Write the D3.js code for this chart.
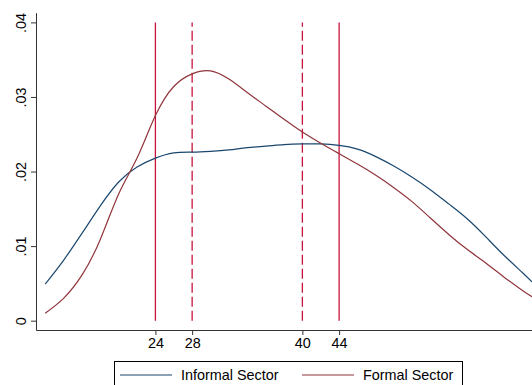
<!doctype html>
<html>
<head>
  <meta charset="utf-8">
  <script src="https://d3js.org/d3.v7.min.js"></script>
  <style>
    body { margin: 0; background: #fff; }
    svg { display: block; }
    text { font-family: Arial, "Liberation Sans", sans-serif; font-size: 14.4px; fill: #000; }
    .axis path, .axis line { stroke: #333; }
  </style>
</head>
<body>
<script>
  // age grid and kernel density estimates
  var ages = [12, 14, 16, 18, 20, 22, 24, 26, 28, 30, 32, 34, 36, 38, 40,
              42, 44, 46, 48, 50, 52, 54, 56, 58, 60, 62, 64, 65];
  var informal = [0.0049, 0.0081, 0.0117, 0.0154, 0.0186, 0.0206, 0.0218, 0.0225, 0.0226, 0.0227,
                  0.0229, 0.0232, 0.0234, 0.0236, 0.0237, 0.0237, 0.0235, 0.0230, 0.0220, 0.0207,
                  0.0192, 0.0175, 0.0156, 0.0136, 0.0112, 0.0087, 0.0064, 0.0052];
  var formal = [0.0010, 0.0030, 0.0061, 0.0109, 0.0170, 0.0218, 0.0275, 0.0314, 0.0331, 0.0335,
                0.0324, 0.0306, 0.0288, 0.0270, 0.0253, 0.0238, 0.0224, 0.0210, 0.0195, 0.0178,
                0.0159, 0.0137, 0.0115, 0.0095, 0.0077, 0.0058, 0.0040, 0.0032];
  var series = [
    { name: "Informal Sector", values: informal, color: "#1a476f" },
    { name: "Formal Sector", values: formal, color: "#90353b" }
  ];
  var xTicks = [24, 28, 40, 44];
  var yTicks = [0, 0.01, 0.02, 0.03, 0.04];
  var refLines = [
    { age: 24, dashed: false },
    { age: 28, dashed: true },
    { age: 40, dashed: true },
    { age: 44, dashed: false }
  ];

  var width = 532, height = 385;

  var svg = d3.select("body").append("svg")
    .attr("width", width)
    .attr("height", height);

  var x = d3.scaleLinear().domain([11, 65]).range([36, 532]);
  var y = d3.scaleLinear().domain([-0.00125, 0.0413]).range([330, 12.7]);

  // reference lines
  svg.selectAll(".ref")
    .data(refLines)
    .enter().append("line")
    .attr("class", "ref")
    .attr("x1", function (d) { return x(d.age); })
    .attr("x2", function (d) { return x(d.age); })
    .attr("y1", y(0))
    .attr("y2", y(0.04))
    .style("stroke", "#c8143c")
    .style("stroke-width", 1.3)
    .style("stroke-dasharray", function (d) { return d.dashed ? "10,4" : null; });

  var line = d3.line()
    .x(function (d, i) { return x(ages[i]); })
    .y(function (d) { return y(d); })
    .curve(d3.curveNatural);

  svg.selectAll(".density")
    .data(series)
    .enter().append("path")
    .attr("class", "density")
    .attr("d", function (d) { return line(d.values); })
    .style("fill", "none")
    .style("stroke", function (d) { return d.color; })
    .style("stroke-width", 1.2);

  // axes
  var yAxis = d3.axisLeft(y)
    .tickValues(yTicks)
    .tickSize(5)
    .tickSizeOuter(0)
    .tickFormat(function (d) { return d === 0 ? "0" : d3.format(".2f")(d).replace(/^0/, ""); });

  var gy = svg.append("g")
    .attr("class", "axis")
    .attr("transform", "translate(36,0)")
    .call(yAxis);
  gy.selectAll("text")
    .attr("x", 0)
    .attr("dy", 0)
    .attr("text-anchor", "middle")
    .attr("transform", "translate(-10.5,0) rotate(-90)");

  var xAxis = d3.axisBottom(x)
    .tickValues(xTicks)
    .tickSize(5)
    .tickSizeOuter(0);

  var gx = svg.append("g")
    .attr("class", "axis")
    .attr("transform", "translate(0,330)")
    .call(xAxis);
  gx.selectAll("text").attr("y", 8);

  svg.selectAll(".axis text")
    .style("font-size", "14.4px")
    .style("fill", "#000");

  // legend
  var legend = svg.append("g");
  legend.append("rect")
    .attr("x", 114.5).attr("y", 361.5)
    .attr("width", 348).attr("height", 40)
    .style("fill", "#fff")
    .style("stroke", "#000");

  var items = legend.selectAll(".item")
    .data(series)
    .enter().append("g")
    .attr("transform", function (d, i) { return "translate(" + (i === 0 ? 120 : 302) + ",375)"; });
  items.append("line")
    .attr("x1", 0).attr("x2", 52)
    .style("stroke", function (d) { return d.color; })
    .style("stroke-width", 1.2);
  items.append("text")
    .attr("x", 61)
    .attr("dy", "0.36em")
    .text(function (d) { return d.name; });
</script>
</body>
</html>
